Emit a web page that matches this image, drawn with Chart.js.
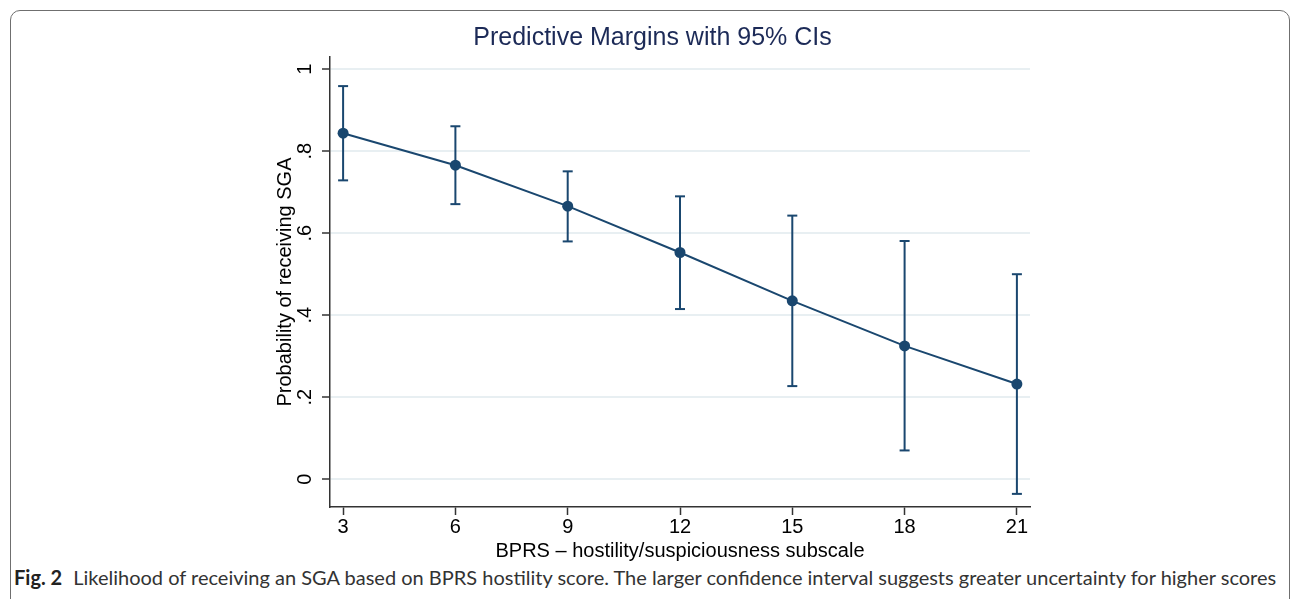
<!DOCTYPE html>
<html lang="en">
<head>
    <meta charset="UTF-8">
    <title>Predictive Margins with 95% CIs</title>
    <style>
        html, body {
            margin: 0;
            padding: 0;
            background: #ffffff;
            width: 1293px;
            height: 599px;
            overflow: hidden;
        }
        .frame {
            position: absolute;
            left: 10px;
            top: 10px;
            width: 1278px;
            height: 640px;
            border: 1.5px solid #6f6f6f;
            border-radius: 10px;
        }
        .chart-box {
            position: absolute;
            left: 0;
            top: 0;
            width: 1293px;
            height: 562px;
        }
        .caption {
            position: absolute;
            left: 14px;
            top: 565px;
            font-family: Lato, "Noto Sans", sans-serif;
            font-size: 20px;
            color: #333;
            white-space: nowrap;
        }
        .caption b {
            color: #222;
            margin-right: 6px;
        }
    </style>
</head>
<body>
    <div class="frame"></div>
    <div class="chart-box">
        <canvas id="marginsChart"></canvas>
    </div>
    <div class="caption"><b>Fig. 2</b> Likelihood of receiving an SGA based on BPRS hostility score. The larger confidence interval suggests greater uncertainty for higher scores</div>

    <script src="https://cdn.jsdelivr.net/npm/chart.js"></script>
    <script>
        // Values
        const scores = [3, 6, 9, 12, 15, 18, 21];
        const margins = [0.844, 0.766, 0.666, 0.553, 0.435, 0.325, 0.232];
        const ciLow = [0.729, 0.671, 0.580, 0.415, 0.227, 0.070, -0.036];
        const ciHigh = [0.959, 0.861, 0.751, 0.690, 0.643, 0.581, 0.500];
        const yTickValues = [0, 0.2, 0.4, 0.6, 0.8, 1];
        const yTickLabels = ['0', '.2', '.4', '.6', '.8', '1'];

        const navy = '#1a476f';
        const font = 'Liberation Sans, Arial, sans-serif';

        // vertical CI segments, split by null gaps
        const ciSegments = [];
        scores.forEach((s, i) => {
            ciSegments.push({ x: s, y: ciLow[i] });
            ciSegments.push({ x: s, y: ciHigh[i] });
            ciSegments.push({ x: s, y: null });
        });
        const ciCaps = scores.map((s, i) => ({ x: s, y: ciLow[i] }))
            .concat(scores.map((s, i) => ({ x: s, y: ciHigh[i] })));

        // y tick labels are rotated like Stata's, so draw them here
        const rotatedYLabels = {
            id: 'rotatedYLabels',
            afterDraw(chart) {
                const yScale = chart.scales.y;
                const ctx = chart.ctx;
                const x = yScale.right - 25;
                ctx.save();
                ctx.font = '20px ' + font;
                ctx.fillStyle = '#000';
                ctx.textAlign = 'center';
                ctx.textBaseline = 'middle';
                yTickValues.forEach((v, i) => {
                    ctx.save();
                    ctx.translate(x, yScale.getPixelForValue(v));
                    ctx.rotate(-Math.PI / 2);
                    ctx.fillText(yTickLabels[i], 0, 0);
                    ctx.restore();
                });
                ctx.restore();
            }
        };

        const chart = new Chart(document.getElementById('marginsChart').getContext('2d'), {
            type: 'scatter',
            data: {
                datasets: [
                    {
                        type: 'line',
                        label: 'CI',
                        data: ciSegments,
                        borderColor: navy,
                        borderWidth: 2,
                        pointRadius: 0,
                        spanGaps: false
                    },
                    {
                        label: 'CI caps',
                        data: ciCaps,
                        pointStyle: 'line',
                        pointRadius: 5,
                        borderColor: navy,
                        borderWidth: 2
                    },
                    {
                        type: 'line',
                        label: 'Margin',
                        data: scores.map((s, i) => ({ x: s, y: margins[i] })),
                        borderColor: navy,
                        borderWidth: 2,
                        pointRadius: 5.5,
                        pointBackgroundColor: navy,
                        pointBorderColor: navy,
                        pointBorderWidth: 0
                    }
                ]
            },
            options: {
                responsive: true,
                maintainAspectRatio: false,
                animation: false,
                layout: {
                    padding: { left: 275, right: 263, top: 23, bottom: 1 }
                },
                plugins: {
                    legend: { display: false },
                    tooltip: { enabled: false },
                    title: {
                        display: true,
                        text: 'Predictive Margins with 95% CIs',
                        color: '#1c2a57',
                        font: { family: font, size: 25, weight: 'normal', lineHeight: 1.2 },
                        padding: { top: 0, bottom: 4 }
                    }
                },
                scales: {
                    x: {
                        type: 'linear',
                        min: 2.65,
                        max: 21.35,
                        afterBuildTicks: (axis) => {
                            axis.ticks = scores.map(v => ({ value: v }));
                        },
                        ticks: {
                            color: '#000',
                            padding: 2,
                            maxRotation: 0,
                            font: { family: font, size: 20, lineHeight: 1 },
                            callback: (v) => String(v)
                        },
                        grid: {
                            drawOnChartArea: false,
                            tickLength: 8,
                            tickColor: '#333',
                            tickWidth: 1.5
                        },
                        border: { color: '#333', width: 1.5 },
                        title: {
                            display: true,
                            text: 'BPRS \u2013 hostility/suspiciousness subscale',
                            color: '#000',
                            font: { family: font, size: 20, lineHeight: 1 },
                            padding: { top: 2, bottom: 0 }
                        }
                    },
                    y: {
                        min: -0.068,
                        max: 1.03,
                        afterBuildTicks: (axis) => {
                            axis.ticks = yTickValues.map(v => ({ value: v }));
                        },
                        afterFit: (axis) => {
                            axis.width = 55;
                        },
                        ticks: { display: false },
                        grid: {
                            color: '#e8eff2',
                            lineWidth: 2,
                            tickLength: 8,
                            tickColor: '#333',
                            tickWidth: 1.5
                        },
                        border: { color: '#333', width: 1.5 },
                        title: {
                            display: true,
                            text: 'Probability of receiving SGA',
                            color: '#000',
                            font: { family: font, size: 20, lineHeight: 1 },
                            padding: { top: 0, bottom: 0 }
                        }
                    }
                }
            },
            plugins: [rotatedYLabels]
        });
    </script>
</body>
</html>
